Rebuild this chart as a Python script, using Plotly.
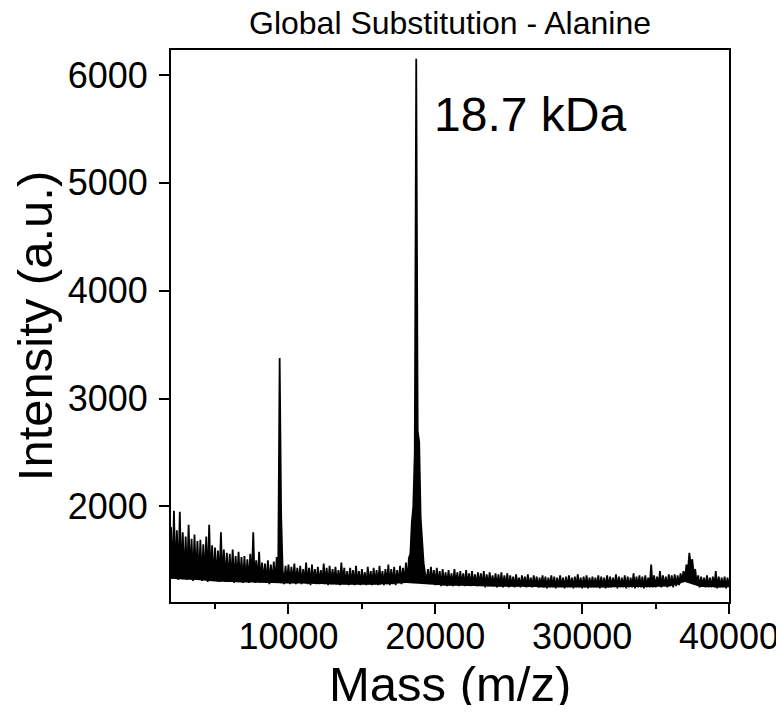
import plotly.graph_objects as go

# spectrum sampled every 100 Da, starting at 2000 Da
mass_start = 2000
mass_step = 100

# 2000 - 9900 Da: noisy low-mass region with the 9.4 kDa (2+) peak
intensity_2k_10k = [
    1810, 1330, 1960, 1350, 1780, 1320, 1950, 1340, 1760, 1330,
    1720, 1320, 1830, 1340, 1700, 1310, 1740, 1330, 1680, 1320,
    1690, 1310, 1650, 1330, 1720, 1300, 1830, 1320, 1640, 1310,
    1620, 1320, 1590, 1300, 1760, 1310, 1600, 1300, 1570, 1310,
    1560, 1300, 1600, 1290, 1540, 1310, 1580, 1300, 1530, 1290,
    1540, 1300, 1510, 1290, 1560, 1300, 1760, 1290, 1500, 1300,
    1580, 1290, 1480, 1300, 1470, 1290, 1500, 1280, 1460, 1300,
    1490, 1290, 1530, 1380, 3376, 1930, 1420, 1280, 1450, 1290,
]

# 10000 - 17900 Da
intensity_10k_18k = [
    1460, 1280, 1440, 1290, 1470, 1280, 1430, 1290, 1450, 1280,
    1420, 1290, 1480, 1280, 1430, 1270, 1460, 1290, 1420, 1280,
    1440, 1280, 1410, 1290, 1470, 1280, 1430, 1270, 1450, 1280,
    1420, 1290, 1440, 1280, 1410, 1270, 1480, 1290, 1430, 1280,
    1400, 1270, 1430, 1280, 1410, 1270, 1450, 1280, 1400, 1270,
    1420, 1280, 1390, 1270, 1440, 1280, 1400, 1270, 1430, 1280,
    1410, 1270, 1450, 1280, 1400, 1270, 1420, 1280, 1460, 1270,
    1420, 1280, 1440, 1270, 1410, 1290, 1450, 1280, 1430, 1290,
]

# 18000 - 19900 Da: main 18.7 kDa peak with its shoulder
intensity_18k_20k = [
    1480, 1300, 1520, 1560, 1850, 2000, 2500, 6150, 2700, 2600,
    1900, 1650, 1480, 1380, 1300, 1420, 1280, 1440, 1290, 1410,
]

# 20000 - 29900 Da
intensity_20k_30k = [
    1270, 1430, 1280, 1400, 1260, 1420, 1270, 1390, 1260, 1410,
    1270, 1380, 1260, 1420, 1270, 1390, 1260, 1400, 1270, 1380,
    1260, 1410, 1270, 1380, 1260, 1400, 1270, 1370, 1260, 1390,
    1270, 1380, 1260, 1400, 1250, 1370, 1260, 1390, 1270, 1360,
    1260, 1380, 1250, 1370, 1260, 1390, 1250, 1360, 1260, 1380,
    1250, 1360, 1260, 1350, 1250, 1370, 1260, 1340, 1250, 1360,
    1260, 1350, 1250, 1370, 1260, 1340, 1250, 1360, 1260, 1350,
    1250, 1340, 1260, 1360, 1250, 1350, 1240, 1340, 1250, 1360,
    1250, 1350, 1240, 1340, 1250, 1360, 1250, 1340, 1240, 1350,
    1250, 1360, 1250, 1340, 1240, 1350, 1250, 1370, 1250, 1340,
]

# 30000 - 40000 Da: dimer bump near 37.4 kDa
intensity_30k_40k = [
    1240, 1350, 1250, 1360, 1240, 1340, 1250, 1350, 1250, 1340,
    1250, 1360, 1240, 1350, 1250, 1340, 1240, 1360, 1250, 1350,
    1250, 1340, 1250, 1370, 1240, 1350, 1250, 1340, 1250, 1360,
    1240, 1350, 1250, 1340, 1250, 1380, 1240, 1350, 1250, 1360,
    1250, 1350, 1240, 1360, 1250, 1340, 1250, 1460, 1250, 1360,
    1250, 1350, 1260, 1400, 1250, 1360, 1260, 1350, 1250, 1370,
    1260, 1360, 1250, 1370, 1260, 1360, 1270, 1380, 1300, 1400,
    1320, 1460, 1400, 1570, 1450, 1510, 1360, 1420, 1280, 1360,
    1250, 1350, 1260, 1340, 1250, 1360, 1250, 1340, 1250, 1350,
    1250, 1400, 1240, 1350, 1250, 1340, 1250, 1350, 1240, 1340,
    1260,
]

intensity = (intensity_2k_10k + intensity_10k_18k + intensity_18k_20k
             + intensity_20k_30k + intensity_30k_40k)

# lower edge of the dense noise band, read every 1000 Da (2000 - 40000)
baseline_step = 1000
baseline = [
    1330, 1325, 1315, 1305, 1300, 1295, 1290, 1290, 1285, 1285,
    1280, 1280, 1275, 1275, 1275, 1280, 1290, 1280, 1270, 1265,
    1265, 1260, 1255, 1255, 1255, 1250, 1250, 1250, 1250, 1250,
    1250, 1250, 1250, 1255, 1260, 1300, 1255, 1250, 1250,
]

x_ticks = [10000, 20000, 30000, 40000]
x_minor_ticks = [5000, 15000, 25000, 35000]
y_ticks = [2000, 3000, 4000, 5000, 6000]

FONT = "Liberation Sans, Arial, sans-serif"

# the page body adds an 8 px margin, so the figure is offset to fit the window
W, H = 776, 697
L, R, T, B = 163, 55, 42, 103
plot_h = H - T - B

fig = go.Figure()

fig.add_trace(go.Scatter(
    x0=mass_start,
    dx=baseline_step,
    y=baseline,
    mode="lines",
    line=dict(color="black", width=0),
    showlegend=False,
    hoverinfo="skip",
))

fig.add_trace(go.Scatter(
    x0=mass_start,
    dx=mass_step,
    y=intensity,
    mode="lines",
    line=dict(color="black", width=1.8),
    fill="tonexty",
    fillcolor="black",
    showlegend=False,
))

fig.add_annotation(
    x=19800, y=5630,
    text="18.7 kDa",
    showarrow=False,
    xanchor="left", yanchor="middle",
    font=dict(family=FONT, size=48, color="black"),
)

# x-axis title placed as paper annotation for exact position
fig.add_annotation(
    x=0.5, xref="paper",
    y=-82 / plot_h, yref="paper",
    text="Mass (m/z)",
    showarrow=False,
    xanchor="center", yanchor="middle",
    font=dict(family=FONT, size=49, color="black"),
)

axis_common = dict(
    showline=True, linecolor="black", linewidth=2, mirror=True,
    showgrid=False, zeroline=False, automargin=False,
    ticks="outside", ticklen=10, tickwidth=2, tickcolor="black",
    tickformat="d", ticklabeloverflow="allow",
    tickfont=dict(family=FONT, size=36, color="black"),
)

fig.update_layout(
    width=W, height=H,
    margin=dict(l=L, r=R, t=T, b=B),
    paper_bgcolor="white", plot_bgcolor="white",
    title=dict(
        text="Global Substitution - Alanine",
        x=(L + (W - R - L) / 2) / W, xanchor="center",
        y=1 - 15 / H, yanchor="middle",
        font=dict(family=FONT, size=32, color="black"),
    ),
    xaxis=dict(
        **axis_common,
        range=[2000, 40000],
        tickvals=x_ticks,
        ticklabelstandoff=-8,
        minor=dict(ticks="outside", ticklen=5, tickwidth=2, tickcolor="black",
                   tickvals=x_minor_ticks),
    ),
    yaxis=dict(
        **axis_common,
        range=[1114, 6232],
        tickvals=y_ticks,
        ticklabelstandoff=4,
        title=dict(text="Intensity (a.u.)", standoff=0,
                   font=dict(family=FONT, size=49, color="black")),
    ),
)

fig.write_html("out.html")
